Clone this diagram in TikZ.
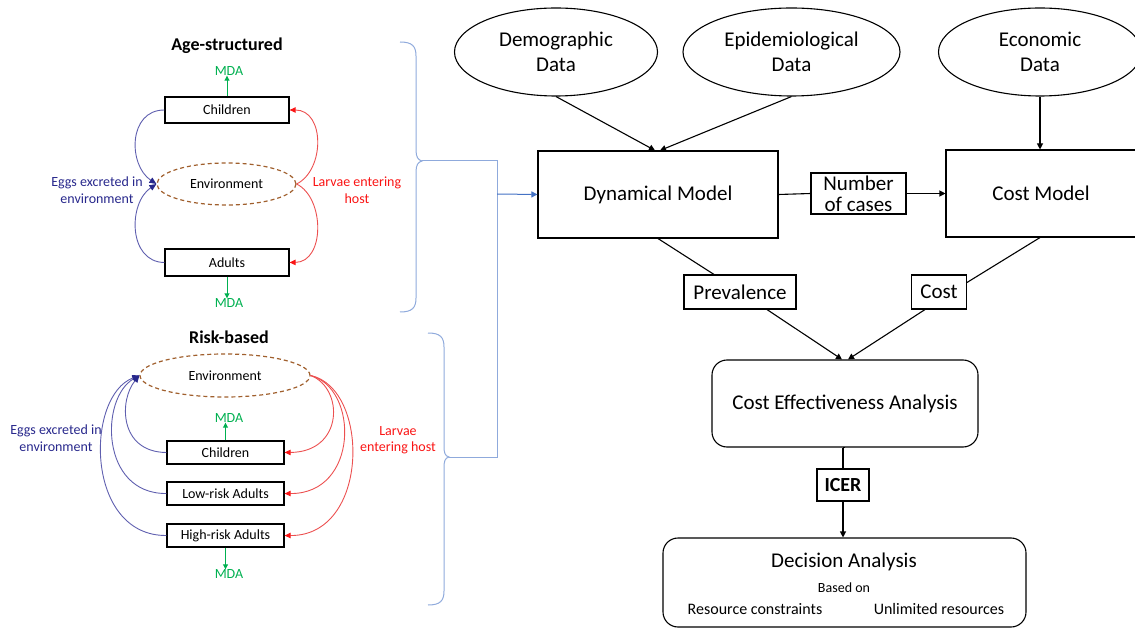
\documentclass[tikz,border=0pt]{standalone}
\usepackage{fontspec}
\setmainfont{Carlito}
\usetikzlibrary{shapes.geometric,arrows.meta,calc}
\definecolor{eggtxt}{RGB}{40,40,140}
\definecolor{eggln}{RGB}{95,95,175}
\definecolor{larvtxt}{RGB}{250,20,20}
\definecolor{larvln}{RGB}{236,80,80}
\definecolor{mdagreen}{RGB}{0,176,80}
\definecolor{bracecol}{RGB}{143,170,220}
\definecolor{arrblue}{RGB}{68,114,196}
\definecolor{envbrown}{RGB}{160,95,45}
\begin{document}
\begin{tikzpicture}[x=1pt,y=-1pt]
\tikzset{
 bigtxt/.style={font=\fontsize{21}{25}\selectfont},
 dataell/.style={draw, ellipse, line width=1.1pt, minimum width=203pt, minimum height=88pt, inner sep=0pt, align=center, bigtxt},
 modelbox/.style={draw, rectangle, line width=1.1pt, minimum height=87pt, inner sep=0pt, bigtxt},
 labbox/.style={draw, rectangle, line width=1.1pt, inner sep=0pt, bigtxt, align=center},
 roundbox/.style={draw, rectangle, rounded corners=15pt, line width=1.1pt, inner sep=0pt},
 flow/.style={line width=1.1pt, -{Triangle[length=6pt,width=6pt]}},
 plainln/.style={line width=1.1pt},
 popbox/.style={draw, rectangle, line width=1.3pt, inner sep=0pt, font=\fontsize{14}{16}\selectfont},
 envell/.style={draw=envbrown, ellipse, dash pattern=on 4pt off 3pt, line width=1.2pt, inner sep=0pt, font=\fontsize{14}{16}\selectfont},
 smalltxt/.style={font=\fontsize{14}{16.5}\selectfont, align=center, inner sep=0pt},
 mdatxt/.style={smalltxt, text=mdagreen},
 mdaarrow/.style={draw=mdagreen, line width=0.9pt, -{Triangle[length=5pt,width=5pt]}},
 eggarrow/.style={draw=eggln, line width=0.9pt, -{Triangle[length=7pt,width=6pt,color=eggtxt]}},
 larvarrow/.style={draw=larvln, line width=0.9pt, -{Triangle[length=6pt,width=5.5pt,color=larvtxt]}},
 bracestyle/.style={draw=bracecol, line width=1pt},
 titletxt/.style={font=\fontsize{18}{20}\selectfont\bfseries, inner sep=0pt}
}
\useasboundingbox (0,0) rectangle (1135,628);

% ---------- Age-structured ----------
\node[titletxt] (t1) at (227,46) {Age-structured};
\node[popbox, minimum width=124pt, minimum height=26pt] (c1) at (227,110) {Children};
\node[envell, minimum width=139pt, minimum height=42pt] (e1) at (226.5,184) {Environment};
\node[popbox, minimum width=124pt, minimum height=27pt] (a1) at (227,262.5) {Adults};
\node[mdatxt] (m1) at (229,71) {MDA};
\node[mdatxt] (m2) at (229,303) {MDA};
\draw[mdaarrow] (c1.north) -- (c1.north |- m1.south);
\draw[mdaarrow] (a1.south) -- (a1.south |- m2.north);
\node[smalltxt, text=eggtxt] (eg1) at (97,190) {Eggs excreted in\\environment};
\node[smalltxt, text=larvtxt] (lv1) at (357,190) {Larvae entering\\host};
\draw[eggarrow] (c1.west) .. controls (128,110) and (128,165) .. (e1.west);
\draw[eggarrow] (a1.west) .. controls (128,262) and (128,203) .. (e1.west);
\draw[larvarrow] (e1.east) .. controls (325,170) and (325,110) .. (c1.east);
\draw[larvarrow] (e1.east) .. controls (325,198) and (325,262) .. (a1.east);

% ---------- Risk-based ----------
\node[titletxt] (t2) at (229,337) {Risk-based};
\node[envell, minimum width=170pt, minimum height=43pt] (e2) at (225,375.5) {Environment};
\node[popbox, minimum width=117pt, minimum height=23pt] (c2) at (225.5,452.5) {Children};
\node[popbox, minimum width=117pt, minimum height=23pt] (l2) at (225.5,493.5) {Low-risk Adults};
\node[popbox, minimum width=117pt, minimum height=23pt] (h2) at (225.5,535.5) {High-risk Adults};
\node[mdatxt] (m3) at (229,418) {MDA};
\node[mdatxt] (m4) at (229,574) {MDA};
\draw[mdaarrow] (c2.north) -- (c2.north |- m3.south);
\draw[mdaarrow] (h2.south) -- (h2.south |- m4.north);
\node[smalltxt, text=eggtxt] (eg2) at (56,438) {Eggs excreted in\\environment};
\node[smalltxt, text=larvtxt] (lv2) at (398,440) {Larvae\\entering host};
\draw[eggarrow] (c2.west) .. controls (119,452) and (119,400) .. (e2.west);
\draw[eggarrow] (l2.west) .. controls (100,494) and (100,398) .. (e2.west);
\draw[eggarrow] (h2.west) .. controls (85,536) and (85,396) .. (e2.west);
\draw[larvarrow] (e2.east) .. controls (344,388) and (344,452) .. (c2.east);
\draw[larvarrow] (e2.east) .. controls (359,388) and (359,494) .. (l2.east);
\draw[larvarrow] (e2.east) .. controls (370,388) and (370,536) .. (h2.east);

% ---------- Braces ----------
\coordinate (b1tip) at (422,161);
\coordinate (b2tip) at (449,457);
\coordinate (k1) at (497,161);
\coordinate (k2) at (497,457);
\coordinate (junc) at (497,194);
\draw[bracestyle] (400,42) .. controls (412,42) and (416,46) .. (416,56) -- (416,150)
  .. controls (416,157) and (418,160) .. (b1tip) .. controls (418,162) and (416,165) .. (416,172)
  -- (416,298) .. controls (416,308) and (412,312) .. (400,312);
\draw[bracestyle] (428,333) .. controls (440,333) and (444,337) .. (444,347) -- (444,446)
  .. controls (444,453) and (445,456) .. (b2tip) .. controls (445,458) and (444,461) .. (444,468)
  -- (444,591) .. controls (444,601) and (440,605) .. (428,605);
\draw[bracestyle] (b1tip) -- (k1) -- (k2) -- (b2tip);

% ---------- Right flow ----------
\node[dataell] (demo) at (556,52) {Demographic\\Data};
\node[dataell, minimum width=217pt] (epi) at (791.5,52) {Epidemiological\\Data};
\node[dataell] (eco) at (1040,52) {Economic\\Data};
\node[modelbox, minimum width=240pt] (dyn) at (658,194.5) {Dynamical Model};
\node[labbox, minimum width=95pt, minimum height=41pt, font=\fontsize{21}{21}\selectfont] (num) at (858.5,193.5) {Number\\of cases};
\node[modelbox, minimum width=190pt] (cm) at (1041,193.5) {Cost Model};
\node[labbox, minimum width=112pt, minimum height=34pt] (prev) at (740,292) {Prevalence};
\node[labbox, minimum width=55pt, minimum height=34pt] (cost) at (939,292) {Cost};
\node[roundbox, minimum width=266pt, minimum height=87pt, bigtxt] (cea) at (845,403.5) {Cost Effectiveness Analysis};
\node[labbox, minimum width=52pt, minimum height=32pt, font=\fontsize{20}{22}\selectfont\bfseries] (icer) at (843,485) {ICER};
\node[roundbox, minimum width=363pt, minimum height=89pt] (da) at (844.5,582.5) {};
\node[inner sep=0pt, bigtxt] (dat) at (844,562) {Decision Analysis};
\node[inner sep=0pt, font=\fontsize{14}{16}\selectfont] (based) at (844,588) {Based on};
\node[inner sep=0pt, font=\fontsize{16}{18}\selectfont] (res) at (755,609) {Resource constraints};
\node[inner sep=0pt, font=\fontsize{16}{18}\selectfont] (unl) at (939,609) {Unlimited resources};

\draw[draw=arrblue, line width=1pt, -{Triangle[length=6pt,width=6pt]}] (junc) -- (dyn.west);

\draw[flow] (demo.south) -- ($(dyn.north)+(-3,0)$);
\draw[flow] (epi.south) -- ($(dyn.north)+(2,0)$);
\draw[flow] (eco.south) -- (eco.south |- cm.north);
\draw[plainln] (dyn.east) -- (num.west);
\draw[flow] (num.east) -- (cm.west);
\draw[plainln] (dyn.south) -- ($(prev.north)+(-26,0)$);
\draw[plainln] (cm.south -| eco.south) -- ($(cost.north east)+(0,8)$);
\draw[flow] ($(prev.south)+(27,0)$) -- ($(cea.north)+(-3,0)$);
\draw[flow] ($(cost.south)+(-14,0)$) -- ($(cea.north)+(3,0)$);
\draw[plainln] (cea.south) -- (cea.south -| icer.north);
\draw[plainln] (cea.south -| icer.north) -- (icer.north);
\draw[flow] (icer.south) -- (icer.south |- da.north);
\end{tikzpicture}
\end{document}
